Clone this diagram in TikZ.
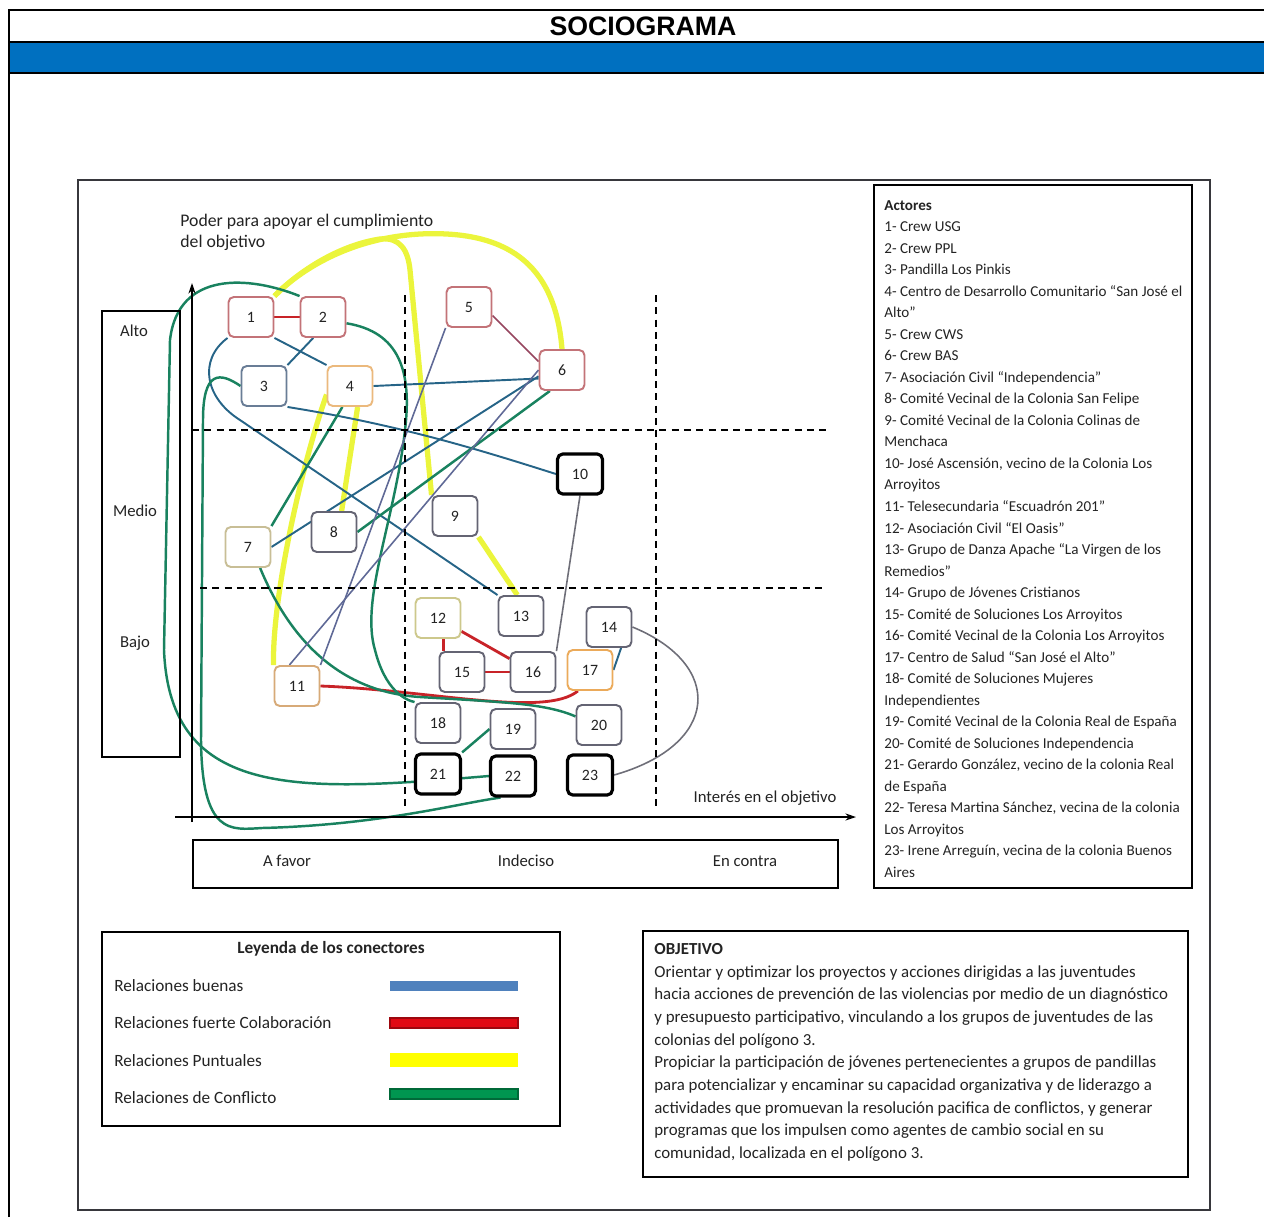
\documentclass[tikz,border=0pt]{standalone}
\usepackage{fontspec}
\setmainfont{Carlito}
\newfontfamily\titlefont{Liberation Sans}
\usepackage{tikz}
\usetikzlibrary{calc,arrows.meta,backgrounds}
\definecolor{bandblue}{RGB}{0,112,192}
\definecolor{goodc}{RGB}{38,100,135}
\definecolor{strongc}{RGB}{200,35,40}
\definecolor{puntc}{RGB}{235,245,60}
\definecolor{conflc}{RGB}{25,130,95}
\definecolor{slatec}{RGB}{95,105,150}
\definecolor{plumc}{RGB}{150,70,95}
\definecolor{grayc}{RGB}{110,110,120}
\definecolor{redb}{RGB}{195,115,120}
\definecolor{blueb}{RGB}{105,125,150}
\definecolor{orb}{RGB}{235,185,125}
\definecolor{tanb}{RGB}{200,190,150}
\definecolor{grayb}{RGB}{100,100,115}
\definecolor{tanor}{RGB}{215,170,120}
\definecolor{oliveb}{RGB}{205,200,140}
\definecolor{orb2}{RGB}{235,170,90}
\definecolor{legblue}{RGB}{79,129,189}
\definecolor{legred}{RGB}{225,10,20}
\definecolor{legyel}{RGB}{255,255,0}
\definecolor{leggreen}{RGB}{0,150,80}
\definecolor{txtc}{RGB}{35,35,35}
\tikzset{
  actor/.style={draw=#1,fill=white,rounded corners=3pt,line width=1.1pt,minimum width=0.9cm,minimum height=0.8cm,inner sep=0pt,text=txtc,font=\fontsize{9}{10}\selectfont},
  actorb/.style={actor=black,line width=1.8pt},
  goodrel/.style={draw=goodc,line width=1.1pt},
  strongrel/.style={draw=strongc,line width=1.6pt},
  puntrel/.style={draw=puntc,line width=3pt},
  conflrel/.style={draw=conflc,line width=1.4pt},
  thinrel/.style={draw=#1,line width=0.9pt},
  quad/.style={dashed,dash pattern=on 4pt off 3pt,line width=0.8pt},
  lbl/.style={font=\fontsize{9.5}{12}\selectfont,inner sep=0pt,text=txtc},
  legtxt/.style={font=\fontsize{9.8}{11}\selectfont,inner sep=0pt,anchor=west,text=txtc}
}
\begin{document}
\begin{tikzpicture}[x=0.02cm,y=-0.02cm]
\useasboundingbox (0,0) rectangle (1264,1217);
\fill[bandblue] (9,42) rectangle (1264,73);
\draw[line width=1.3pt] (9,1217) -- (9,10) -- (1264,10);
\draw[line width=1.6pt] (9,42) -- (1264,42) (9,73) -- (1264,73);
\node[font=\titlefont\bfseries\fontsize{15.2}{17}\selectfont] (title) at (643,26) {SOCIOGRAMA};
\draw[grayc!50!black,line width=0.9pt] (78,180) rectangle (1210,1210);
\draw[line width=0.8pt] (874,185) rectangle (1192,888);
\draw[line width=0.8pt] (102,932) rectangle (560,1126);
\draw[line width=0.8pt] (643,931) rectangle (1188,1177);
\draw[line width=0.7pt] (102,311) rectangle (180,757);
\draw[line width=0.7pt] (193,840) rectangle (838,888);
\draw[-{Stealth[length=6pt,width=4pt]},line width=0.8pt] (192,822) -- (192,283);
\draw[-{Stealth[length=6pt,width=4pt]},line width=0.8pt] (175,817) -- (856,817);
\draw[quad] (405,295) -- (405,810) (656,295) -- (656,810);
\draw[quad] (192,430) -- (826,430) (200,588) -- (826,588);
\node[lbl,font=\fontsize{10.1}{12}\selectfont,anchor=north west,align=left] (poder) at (180,214) {Poder para apoyar el cumplimiento\\del objetivo};
\node[lbl] (alto) at (134,331) {Alto};
\node[lbl] (medio) at (135,511) {Medio};
\node[lbl] (bajo) at (135,643) {Bajo};
\node[lbl] (afavor) at (287,861) {A favor};
\node[lbl] (indeciso) at (526,861) {Indeciso};
\node[lbl] (encontra) at (745,861) {En contra};
\node[lbl] (interes) at (765,798) {Interés en el objetivo};
\node[actor=redb] (n1) at (251,317) {1};
\node[actor=redb] (n2) at (323,317) {2};
\node[actor=blueb] (n3) at (264,386) {3};
\node[actor=orb] (n4) at (350,386) {4};
\node[actor=redb] (n5) at (469,307) {5};
\node[actor=redb] (n6) at (562,370) {6};
\node[actor=tanb] (n7) at (248,547) {7};
\node[actor=grayb] (n8) at (334,532) {8};
\node[actor=grayb] (n9) at (455,516) {9};
\node[actorb] (n10) at (580,474) {10};
\node[actor=tanor] (n11) at (297,686) {11};
\node[actor=oliveb] (n12) at (438,618) {12};
\node[actor=grayb] (n13) at (521,616) {13};
\node[actor=grayb] (n14) at (609,627) {14};
\node[actor=grayb] (n15) at (462,672) {15};
\node[actor=grayb] (n16) at (533,672) {16};
\node[actor=orb2] (n17) at (590,670) {17};
\node[actor=grayb] (n18) at (438,723) {18};
\node[actor=grayb] (n19) at (513,729) {19};
\node[actor=grayb] (n20) at (599,725) {20};
\node[actorb] (n21) at (438,774) {21};
\node[actorb] (n22) at (513,776) {22};
\node[actorb] (n23) at (590,775) {23};
\begin{scope}[on background layer]
\draw[strongrel] (n1) -- (n2);
\draw[strongrel] (n12.-75) -- (n12.-75 |- n15.north);
\draw[strongrel] (n12) -- (n16);
\draw[strongrel] (n15) -- (n16);
\draw[strongrel] (n11.east) .. controls (430,690) and (545,718) .. (n17.-120);
\draw[puntrel] (n1.north east) .. controls (300,270) and (350,238) .. (420,234) .. controls (505,230) and (555,262) .. (n6.north);
\draw[puntrel] (n1.north east) .. controls (300,270) and (340,245) .. (380,239) .. controls (400,237) and (408,250) .. (410,270) -- (n9.north west);
\draw[puntrel] (n4.-70) -- (n8.70);
\draw[puntrel] (n4.200) .. controls (300,470) and (272,600) .. (n11.north west);
\draw[puntrel] (n9.south east) -- (n13.100);
\draw[goodrel] (n1.south west) .. controls (198,360) and (205,398) .. (240,420) -- (n13.north west);
\draw[goodrel] (n3.south east) .. controls (400,425) and (480,450) .. (n10.west);
\draw[goodrel] (n2.-115) -- (n3.north east);
\draw[goodrel] (n1.south east) -- (n4.north west);
\draw[goodrel] (n4.east) -- (n6.200);
\draw[goodrel] (n7.east) -- (n6.195);
\draw[goodrel] (n14.-60) -- (n17.east);
\draw[conflrel] (n2.north west) .. controls (250,276) and (178,270) .. (170,340) -- (164,650) .. controls (170,800) and (300,792) .. (n22.west);
\draw[conflrel] (n3.west) .. controls (220,372) and (203,370) .. (203,420) -- (201,740) .. controls (202,835) and (230,830) .. (262,828) .. controls (380,825) and (460,803) .. (n22.-120);
\draw[conflrel] (n7.north east) -- (n4.-110);
\draw[conflrel] (n8.east) -- (n6.-120);
\draw[conflrel] (n7.-60) .. controls (290,640) and (340,692) .. (420,697) .. controls (500,702) and (545,703) .. (n20.160);
\draw[conflrel] (n2.-15) .. controls (400,332) and (412,372) .. (405,430) .. controls (395,520) and (360,600) .. (375,650) .. controls (385,690) and (405,700) .. (n18.north west);
\draw[conflrel] (n19.west) -- (n21.north east);
\draw[thinrel=slatec] (n11.110) -- (n6.west);
\draw[thinrel=slatec] (n11.north east) -- (n5.south west);
\draw[thinrel=plumc] (n5.-20) -- (n6.160);
\draw[thinrel=grayc] (n10.south) -- (n16.north east);
\draw[thinrel=grayc] (n14.east) .. controls (725,665) and (720,745) .. (n23.east);
\end{scope}
\node[anchor=north west,align=left,inner sep=0pt,text=txtc,font=\fontsize{8.6}{12.25}\selectfont] (actores) at (884,200) {\textbf{Actores}\\1- Crew USG\\2- Crew PPL\\3- Pandilla Los Pinkis\\4- Centro de Desarrollo Comunitario “San José el\\Alto”\\5- Crew CWS\\6- Crew BAS\\7- Asociación Civil “Independencia”\\8- Comité Vecinal de la Colonia San Felipe\\9- Comité Vecinal de la Colonia Colinas de\\Menchaca\\10- José Ascensión, vecino de la Colonia Los\\Arroyitos\\11- Telesecundaria “Escuadrón 201”\\12- Asociación Civil “El Oasis”\\13- Grupo de Danza Apache “La Virgen de los\\Remedios”\\14- Grupo de Jóvenes Cristianos\\15- Comité de Soluciones Los Arroyitos\\16- Comité Vecinal de la Colonia Los Arroyitos\\17- Centro de Salud “San José el Alto”\\18- Comité de Soluciones Mujeres\\Independientes\\19- Comité Vecinal de la Colonia Real de España\\20- Comité de Soluciones Independencia\\21- Gerardo González, vecino de la colonia Real\\de España\\22- Teresa Martina Sánchez, vecina de la colonia\\Los Arroyitos\\23- Irene Arreguín, vecina de la colonia Buenos\\Aires};
\node[font=\bfseries\fontsize{9.8}{11}\selectfont,inner sep=0pt,text=txtc] (leyenda) at (331,949) {Leyenda de los conectores};
\node[legtxt] (buenas) at (114,986) {Relaciones buenas};
\node[legtxt] (fuerte) at (114,1023) {Relaciones fuerte Colaboración};
\node[legtxt] (puntuales) at (114,1061) {Relaciones Puntuales};
\node[legtxt] (conflicto) at (114,1098) {Relaciones de Conflicto};
\fill[legblue] (390,981) rectangle (518,991);
\filldraw[fill=legred,draw=legred!70!black,line width=0.6pt] (390,1018) rectangle (518,1028);
\fill[legyel] (390,1053) rectangle (518,1067);
\filldraw[fill=leggreen,draw=leggreen!70!black,line width=0.6pt] (390,1089) rectangle (518,1099);
\node[anchor=north west,align=left,inner sep=0pt,text=txtc,font=\fontsize{9.6}{12.9}\selectfont] (objetivo) at (654,943) {\textbf{OBJETIVO}\\Orientar y optimizar los proyectos y acciones dirigidas a las juventudes\\hacia acciones de prevención de las violencias por medio de un diagnóstico\\y presupuesto participativo, vinculando a los grupos de juventudes de las\\colonias del polígono 3.\\Propiciar la participación de jóvenes pertenecientes a grupos de pandillas\\para potencializar y encaminar su capacidad organizativa y de liderazgo a\\actividades que promuevan la resolución pacifica de conflictos, y generar\\programas que los impulsen como agentes de cambio social en su\\comunidad, localizada en el polígono 3.};
\end{tikzpicture}
\end{document}
